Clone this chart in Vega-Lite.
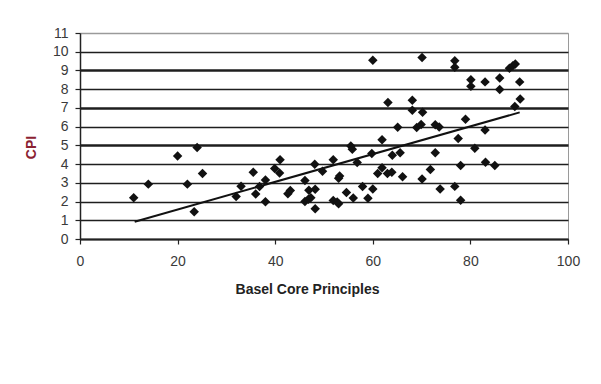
{
  "$schema": "https://vega.github.io/schema/vega-lite/v6.json",
  "autosize": "none",
  "padding": {"left": 80, "top": 33, "right": 33, "bottom": 145},
  "width": 488,
  "height": 206,
  "background": "white",
  "config": {"view": {"stroke": "#9a9a9a", "strokeWidth": 1}},
  "datasets": {
    "pts": [
      {"bcp": 11, "cpi": 2.2}, {"bcp": 14, "cpi": 2.93}, {"bcp": 20, "cpi": 4.43}, {"bcp": 22, "cpi": 2.93},
      {"bcp": 23.4, "cpi": 1.45}, {"bcp": 24, "cpi": 4.88}, {"bcp": 25.1, "cpi": 3.5}, {"bcp": 32, "cpi": 2.27},
      {"bcp": 33, "cpi": 2.82}, {"bcp": 35.5, "cpi": 3.56}, {"bcp": 36, "cpi": 2.4}, {"bcp": 36.8, "cpi": 2.8},
      {"bcp": 38, "cpi": 3.15}, {"bcp": 38, "cpi": 1.99}, {"bcp": 39.9, "cpi": 3.76}, {"bcp": 41, "cpi": 4.23},
      {"bcp": 40.9, "cpi": 3.53}, {"bcp": 42.6, "cpi": 2.42}, {"bcp": 43.1, "cpi": 2.59}, {"bcp": 46.1, "cpi": 3.13},
      {"bcp": 46.1, "cpi": 2.0}, {"bcp": 46.9, "cpi": 2.6}, {"bcp": 46.8, "cpi": 2.12}, {"bcp": 47.3, "cpi": 2.2},
      {"bcp": 48.1, "cpi": 3.99}, {"bcp": 48.2, "cpi": 2.66}, {"bcp": 48.2, "cpi": 1.62}, {"bcp": 49.7, "cpi": 3.62},
      {"bcp": 51.9, "cpi": 4.23}, {"bcp": 51.9, "cpi": 2.05}, {"bcp": 52.7, "cpi": 1.97}, {"bcp": 53, "cpi": 3.25},
      {"bcp": 53.2, "cpi": 3.36}, {"bcp": 53, "cpi": 1.88}, {"bcp": 54.6, "cpi": 2.48}, {"bcp": 55.5, "cpi": 4.97},
      {"bcp": 55.8, "cpi": 4.79}, {"bcp": 56, "cpi": 2.19}, {"bcp": 56.8, "cpi": 4.09}, {"bcp": 57.9, "cpi": 2.8},
      {"bcp": 59, "cpi": 2.18}, {"bcp": 59.8, "cpi": 4.57}, {"bcp": 60, "cpi": 2.67}, {"bcp": 60, "cpi": 9.55},
      {"bcp": 61, "cpi": 3.5}, {"bcp": 61.9, "cpi": 5.3}, {"bcp": 61.9, "cpi": 3.8}, {"bcp": 63, "cpi": 3.5},
      {"bcp": 63.1, "cpi": 7.29}, {"bcp": 63.9, "cpi": 3.56}, {"bcp": 64, "cpi": 4.47}, {"bcp": 65.1, "cpi": 5.97},
      {"bcp": 65.6, "cpi": 4.61}, {"bcp": 66.1, "cpi": 3.33}, {"bcp": 68.1, "cpi": 7.41}, {"bcp": 68.1, "cpi": 6.88},
      {"bcp": 69, "cpi": 5.96}, {"bcp": 69.9, "cpi": 6.12}, {"bcp": 70.2, "cpi": 6.77}, {"bcp": 70.1, "cpi": 9.69},
      {"bcp": 70.1, "cpi": 3.21}, {"bcp": 71.8, "cpi": 3.71}, {"bcp": 72.8, "cpi": 4.61}, {"bcp": 72.8, "cpi": 6.1},
      {"bcp": 73.6, "cpi": 5.98}, {"bcp": 73.8, "cpi": 2.67}, {"bcp": 76.8, "cpi": 9.52}, {"bcp": 76.8, "cpi": 9.17},
      {"bcp": 76.8, "cpi": 2.81}, {"bcp": 77.5, "cpi": 5.37}, {"bcp": 78, "cpi": 3.92}, {"bcp": 78, "cpi": 2.07},
      {"bcp": 79, "cpi": 6.4}, {"bcp": 80.1, "cpi": 8.5}, {"bcp": 80.1, "cpi": 8.15}, {"bcp": 80.9, "cpi": 4.84},
      {"bcp": 83, "cpi": 8.39}, {"bcp": 83, "cpi": 5.82}, {"bcp": 83.1, "cpi": 4.1}, {"bcp": 85, "cpi": 3.92},
      {"bcp": 86, "cpi": 8.6}, {"bcp": 86, "cpi": 7.98}, {"bcp": 88, "cpi": 9.12}, {"bcp": 88.7, "cpi": 9.25},
      {"bcp": 89.2, "cpi": 9.35}, {"bcp": 89.1, "cpi": 7.08}, {"bcp": 90.1, "cpi": 8.39}, {"bcp": 90.2, "cpi": 7.47}
    ],
    "trend": [
      {"bcp": 11.2, "cpi": 0.92},
      {"bcp": 90.1, "cpi": 6.76}
    ]
  },
  "encoding": {
    "x": {
      "field": "bcp", "type": "quantitative",
      "scale": {"domain": [0, 100], "nice": false, "zero": true},
      "axis": {
        "values": [0, 20, 40, 60, 80, 100],
        "grid": false,
        "labelFlush": false,
        "domainColor": "#222222", "domainWidth": 2,
        "tickColor": "#222222", "tickSize": 5, "tickWidth": 1.2,
        "labelFont": "Liberation Sans", "labelFontSize": 14, "labelColor": "#3a3a3a", "labelPadding": 10,
        "title": "Basel Core Principles",
        "titleFont": "Liberation Sans", "titleFontSize": 14, "titleFontWeight": "bold", "titleColor": "#222222",
        "titleX": 227, "titleY": 50, "titleAlign": "center", "titleBaseline": "middle"
      }
    },
    "y": {
      "field": "cpi", "type": "quantitative",
      "scale": {"domain": [0, 11], "nice": false},
      "axis": {
        "values": [0, 1, 2, 3, 4, 5, 6, 7, 8, 9, 10, 11],
        "labelOverlap": false,
        "labelFlush": false,
        "grid": true,
        "gridColor": {"condition": {"test": "datum.value == 11", "value": "#9a9a9a"}, "value": "#1e1e1e"},
        "gridWidth": {"condition": {"test": "datum.value == 5 || datum.value == 7 || datum.value == 9", "value": 2.5}, "value": 1.3},
        "gridOpacity": 1,
        "domainColor": "#222222", "domainWidth": 1.5,
        "tickColor": "#222222", "tickSize": 5, "tickWidth": 1.2,
        "labelFont": "Liberation Sans", "labelFontSize": 14, "labelColor": "#3a3a3a", "labelPadding": 7,
        "title": "CPI",
        "titleFont": "Liberation Sans", "titleFontSize": 14, "titleFontWeight": "bold", "titleColor": "#8b2232",
        "titleX": -49, "titleY": 114, "titleAngle": 270, "titleAlign": "center", "titleBaseline": "middle"
      }
    }
  },
  "layer": [
    {
      "data": {"name": "trend"},
      "mark": {"type": "line", "color": "#111111", "strokeWidth": 2}
    },
    {
      "data": {"name": "pts"},
      "mark": {"type": "point", "shape": "diamond", "filled": true, "color": "#111111", "size": 90, "opacity": 1}
    }
  ]
}
